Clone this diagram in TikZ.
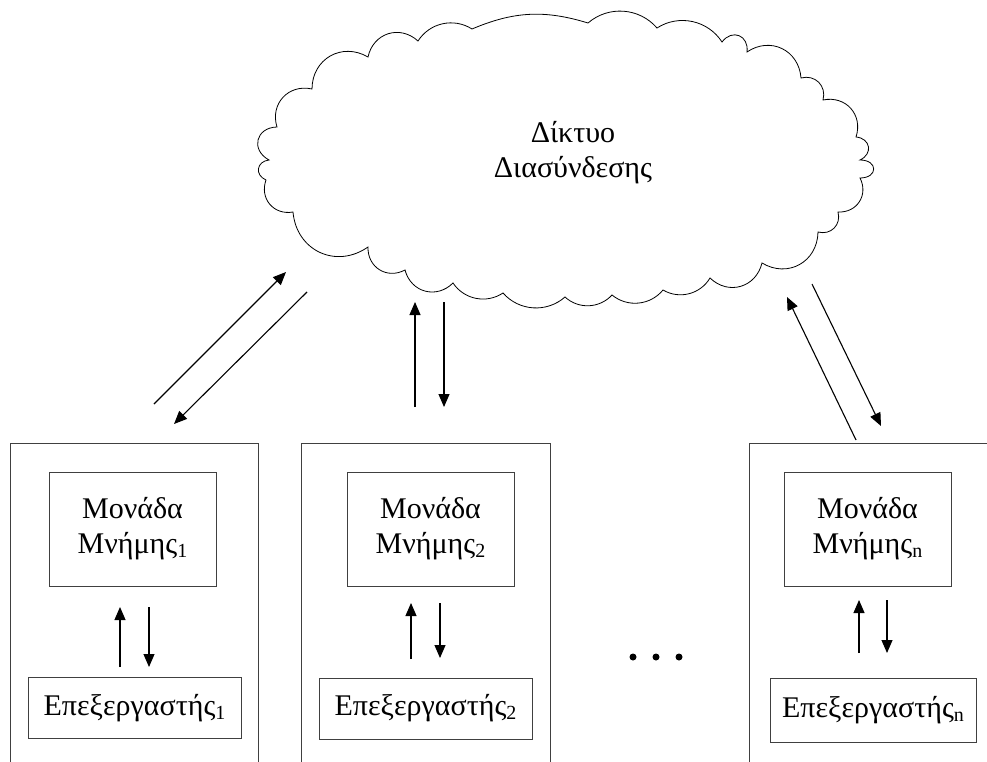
\documentclass[tikz,border=0pt]{standalone}
\usepackage{fontspec}
\setmainfont{Liberation Serif}
\usetikzlibrary{arrows.meta}
\newcommand\idx[1]{\raisebox{-4pt}{\fontsize{20}{20}\selectfont #1}}
\begin{document}
\begin{tikzpicture}[x=1pt,y=-1pt,
  txt/.style={font=\fontsize{30}{35}\selectfont, align=center},
  unitbox/.style={draw=black!75, line width=0.8pt, anchor=north west,
    minimum height=400pt, inner sep=0pt},
  membox/.style={txt, draw=black!75, line width=0.8pt, inner sep=0pt,
    minimum width=167pt, minimum height=114pt},
  cpubox/.style={txt, draw=black!75, line width=0.8pt, inner sep=0pt,
    minimum width=213pt, minimum height=61pt},
  flow/.style={line width=1.1pt, -{Triangle[length=13pt,width=11pt]}},
  dotmark/.style={circle, fill=black, inner sep=0pt, minimum size=7pt},
  cloudline/.style={line width=0.8pt},
  pa/.style={bend left=20, looseness=1},
  pb/.style={bend left=45, looseness=1},
  pc/.style={bend left=60, looseness=1.2},
  pd/.style={bend left=75, looseness=1.6},
  pe/.style={bend left=90, looseness=2.6}]
\clip (0,0) rectangle (987,762);

% interconnection network cloud
\draw[cloudline] (293,212)
  to[pc] (266,180) to[pd] (269,160) to[pd] (277,127) to[pc] (312,89)
  to[pc] (368,57) to[pc] (418,41) to[pb] (472,29) to[pa] (588,23)
  to[pb] (657,28) to[pb] (722,42) to[pd] (747,52) to[pc] (801,78)
  to[pc] (823,100) to[pc] (856,137) to[pd] (860,160) to[pe] (860,178)
  to[pc] (838,212) to[pc] (818,232) to[pc] (762,263) to[pc] (710,278)
  to[pb] (663,290) to[pb] (612,295) to[pb] (565,297) to[pb] (503,293)
  to[pb] (453,283) to[pc] (405,270) to[pc] (368,247) to[pc] cycle;
\node[txt] (net) at (573,153) {Δίκτυο\\Διασύνδεσης};

% processing units
\node[unitbox, minimum width=248pt] (unit1) at (10,443) {};
\node[unitbox, minimum width=249pt] (unit2) at (301,443) {};
\node[unitbox, minimum width=249pt] (unitn) at (749,443) {};

\node[membox] (mem1) at (132.5,529) {Μονάδα\\Μνήμης\idx{1}};
\node[membox] (mem2) at (430.5,529) {Μονάδα\\Μνήμης\idx{2}};
\node[membox] (memn) at (867.5,529) {Μονάδα\\Μνήμης\idx{n}};

\node[cpubox] (cpu1) at (134.5,708) {Επεξεργαστής\idx{1}};
\node[cpubox] (cpu2) at (425.5,708.5) {Επεξεργαστής\idx{2}};
\node[cpubox, minimum width=206pt, minimum height=64pt] (cpun) at (873,710) {Επεξεργαστής\idx{n}};

\node[dotmark] (dot1) at (633,657) {};
\node[dotmark] (dot2) at (656,657) {};
\node[dotmark] (dot3) at (679,657) {};

% arrow end points
\coordinate (a1s) at (154,404); \coordinate (a1e) at (286,272);
\coordinate (b1s) at (307,292); \coordinate (b1e) at (174,424);
\coordinate (a2s) at (415,407); \coordinate (a2e) at (415,302);
\coordinate (b2s) at (444,302); \coordinate (b2e) at (444,407);
\coordinate (ans) at (856,440); \coordinate (ane) at (787,297);
\coordinate (bns) at (812,284); \coordinate (bne) at (881,426);

\coordinate (i1a) at (120,667); \coordinate (i1b) at (120,607);
\coordinate (j1a) at (149,607); \coordinate (j1b) at (149,667);
\coordinate (i2a) at (411,659); \coordinate (i2b) at (411,603);
\coordinate (j2a) at (440,603); \coordinate (j2b) at (440,658);
\coordinate (ina) at (859,653); \coordinate (inb) at (859,600);
\coordinate (jna) at (887,600); \coordinate (jnb) at (887,653);

% network <-> units
\draw[flow] (a1s) -- (a1e);
\draw[flow] (b1s) -- (b1e);
\draw[flow] (a2s) -- (a2e);
\draw[flow] (b2s) -- (b2e);
\draw[flow] (ans) -- (ane);
\draw[flow] (bns) -- (bne);

% processor <-> memory
\draw[flow] (i1a) -- (i1b);
\draw[flow] (j1a) -- (j1b);
\draw[flow] (i2a) -- (i2b);
\draw[flow] (j2a) -- (j2b);
\draw[flow] (ina) -- (inb);
\draw[flow] (jna) -- (jnb);
\end{tikzpicture}
\end{document}
